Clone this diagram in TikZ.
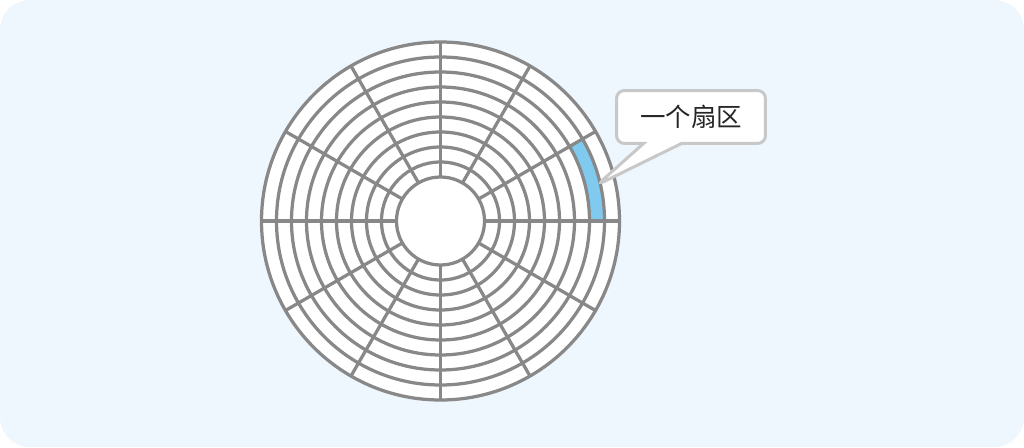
\documentclass[tikz,border=0pt]{standalone}
\usepackage{fontspec}
\newfontfamily\cjk{Noto Sans CJK SC}
\usetikzlibrary{shapes.callouts}
\definecolor{bgblue}{RGB}{238,246,254}
\definecolor{diskgray}{RGB}{136,136,136}
\definecolor{sectorblue}{RGB}{128,202,240}
\definecolor{calloutgray}{RGB}{200,200,200}
\tikzset{
  disk/.style={draw=diskgray, line width=0.065cm},
  label box/.style={rectangle callout, draw=calloutgray, fill=white, line width=0.06cm,
    rounded corners=0.16cm, minimum width=2.98cm, minimum height=1.06cm,
    callout pointer width=0.76cm, font=\cjk\fontsize{14.5}{17}\selectfont, text=black!85}
}
\begin{document}
\begin{tikzpicture}[x=0.02cm,y=0.02cm]
        \def\innerradius{44}
        \def\ringgap{15}
        \def\outerradius{179}
        \useasboundingbox (0,0) rectangle (1024,447);
        \fill[white] (0,0) rectangle (1024,447);
        \fill[bgblue, rounded corners=0.6cm] (0,0) rectangle (1024,447);
        \coordinate (Center) at (440.5,226);
        \fill[white] (Center) circle (\outerradius);
        \fill[sectorblue] ([shift={(0:149)}]Center) arc (0:30:149) -- ([shift={(30:164)}]Center) arc (30:0:164) -- cycle;
        \foreach \i in {0,...,9}
            \draw[disk] (Center) circle ({\innerradius+\ringgap*\i});
        \foreach \a in {0,30,...,330}
            \draw[disk] ([shift={(\a:\innerradius)}]Center) -- ([shift={(\a:\outerradius)}]Center);
        \coordinate (SectorTip) at (597,262);
        \node[label box, callout absolute pointer=(SectorTip)] (SectorLabel) at (691,330) {一个扇区};
    \end{tikzpicture}
\end{document}
